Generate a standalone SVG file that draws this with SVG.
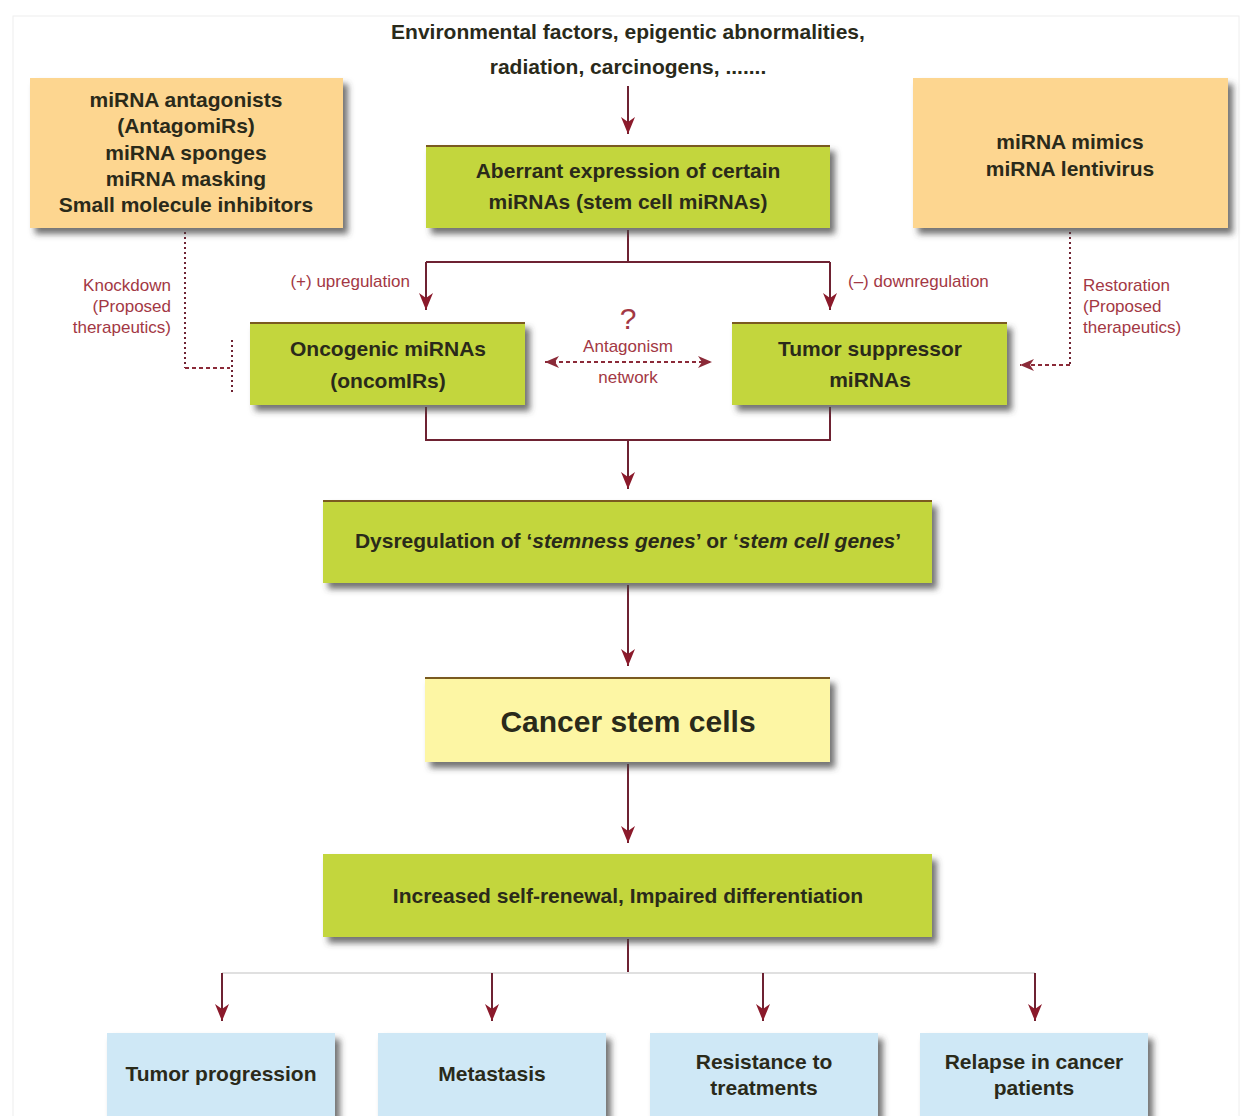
<svg xmlns="http://www.w3.org/2000/svg" width="1245" height="1116" viewBox="0 0 1245 1116">
<style>
.t{font-family:"Liberation Sans",Arial,sans-serif;font-weight:bold;fill:#2a2a1a;text-anchor:middle}
.lbl{font-family:"Liberation Sans",Arial,sans-serif;fill:#a33844;font-size:17px}
.q{font-family:"Liberation Sans",Arial,sans-serif;fill:#a33844;font-size:30px;text-anchor:middle}
.green{fill:#c3d63c}
.orange{fill:#fdd690}
.yellow{fill:#fdf6a4}
.blue{fill:#cfe8f6}
.topedge{stroke:#7a5a20;stroke-width:2}
.conn{stroke:#6e2232;stroke-width:2;fill:none}
.dot{stroke:#6e2232;stroke-width:2;fill:none;stroke-dasharray:2 3}
.dash{stroke:#8b2a38;stroke-width:2;fill:none;stroke-dasharray:4 3}
</style>
<defs>
<filter id="sh" x="-10%" y="-20%" width="130%" height="150%">
<feDropShadow dx="5" dy="6" stdDeviation="3" flood-color="#444" flood-opacity="0.75"/>
</filter>
<marker id="ah" viewBox="0 0 17 14" refX="17" refY="7" markerWidth="17" markerHeight="14" markerUnits="userSpaceOnUse" orient="auto-start-reverse">
<path d="M0,0 L17,7 L0,14 L5,7 Z" fill="#8b1a2b"/>
</marker>
<marker id="ad" viewBox="0 0 14 12" refX="14" refY="6" markerWidth="14" markerHeight="12" markerUnits="userSpaceOnUse" orient="auto-start-reverse">
<path d="M0,0 L14,6 L0,12 L4,6 Z" fill="#8b2a38"/>
</marker>
</defs>
<rect x="0" y="0" width="1245" height="1116" fill="#ffffff"/>
<rect x="13" y="16" width="1226" height="1110" fill="none" stroke="#eeeeee" stroke-width="1"/>

<g id="connectors">
<line class="conn" x1="628" y1="86" x2="628" y2="134" marker-end="url(#ah)"/>
<path class="conn" d="M628,230 V262 M426,262 H830"/>
<line class="conn" x1="426" y1="262" x2="426" y2="310" marker-end="url(#ah)"/>
<line class="conn" x1="830" y1="262" x2="830" y2="310" marker-end="url(#ah)"/>
<path class="conn" d="M426,407 V440 H830 V407"/>
<line class="conn" x1="628" y1="440" x2="628" y2="489" marker-end="url(#ah)"/>
<line class="conn" x1="628" y1="585" x2="628" y2="666" marker-end="url(#ah)"/>
<line class="conn" x1="628" y1="764" x2="628" y2="843" marker-end="url(#ah)"/>
<line class="conn" x1="628" y1="939" x2="628" y2="973"/>
<line x1="222" y1="973" x2="1035" y2="973" stroke="#e0e0e0" stroke-width="2"/>
<line class="conn" x1="222" y1="973" x2="222" y2="1021" marker-end="url(#ah)"/>
<line class="conn" x1="492" y1="973" x2="492" y2="1021" marker-end="url(#ah)"/>
<line class="conn" x1="763" y1="973" x2="763" y2="1021" marker-end="url(#ah)"/>
<line class="conn" x1="1035" y1="973" x2="1035" y2="1021" marker-end="url(#ah)"/>
<path class="dot" d="M185,232 V368"/>
<path class="dash" d="M185,368 H230"/>
<path class="dot" d="M232,340 V394"/>
<path class="dot" d="M1070,232 V365"/>
<path class="dash" d="M1070,365 H1020" marker-end="url(#ad)"/>
<path class="dash" d="M545,362 H712" marker-start="url(#ad)" marker-end="url(#ad)"/>
</g>

<g id="top-text">
<text class="t" x="628" y="39" font-size="21">Environmental factors, epigentic abnormalities,</text>
<text class="t" x="628" y="74" font-size="21">radiation, carcinogens, .......</text>
</g>

<g id="left-orange">
<rect class="orange" x="30" y="78" width="313" height="150" filter="url(#sh)"/>
<text class="t" font-size="21"><tspan x="186" y="107">miRNA antagonists</tspan><tspan x="186" y="133">(AntagomiRs)</tspan><tspan x="186" y="160">miRNA sponges</tspan><tspan x="186" y="186">miRNA masking</tspan><tspan x="186" y="212">Small molecule inhibitors</tspan></text>
</g>

<g id="right-orange">
<rect class="orange" x="913" y="78" width="315" height="150" filter="url(#sh)"/>
<text class="t" font-size="21"><tspan x="1070" y="149">miRNA mimics</tspan><tspan x="1070" y="176">miRNA lentivirus</tspan></text>
</g>

<g id="aberrant">
<rect class="green" x="426" y="145" width="404" height="83" filter="url(#sh)"/>
<line class="topedge" x1="426" y1="146" x2="830" y2="146"/>
<text class="t" font-size="21"><tspan x="628" y="178">Aberrant expression of certain</tspan><tspan x="628" y="209">miRNAs (stem cell miRNAs)</tspan></text>
</g>

<g id="labels">
<text class="lbl" x="410" y="287" text-anchor="end">(+) upregulation</text>
<text class="lbl" x="848" y="287">(–) downregulation</text>
<text class="lbl" x="171" y="291" text-anchor="end">Knockdown</text>
<text class="lbl" x="171" y="312" text-anchor="end">(Proposed</text>
<text class="lbl" x="171" y="333" text-anchor="end">therapeutics)</text>
<text class="lbl" x="1083" y="291">Restoration</text>
<text class="lbl" x="1083" y="312">(Proposed</text>
<text class="lbl" x="1083" y="333">therapeutics)</text>
<text class="q" x="628" y="329">?</text>
<text class="lbl" x="628" y="352" text-anchor="middle">Antagonism</text>
<text class="lbl" x="628" y="383" text-anchor="middle">network</text>
</g>

<g id="oncogenic">
<rect class="green" x="250" y="322" width="275" height="83" filter="url(#sh)"/>
<line class="topedge" x1="250" y1="323" x2="525" y2="323"/>
<text class="t" font-size="21"><tspan x="388" y="356">Oncogenic miRNAs</tspan><tspan x="388" y="388">(oncomIRs)</tspan></text>
</g>

<g id="tumor-suppressor">
<rect class="green" x="732" y="322" width="275" height="83" filter="url(#sh)"/>
<line class="topedge" x1="732" y1="323" x2="1007" y2="323"/>
<text class="t" font-size="21"><tspan x="870" y="356">Tumor suppressor</tspan><tspan x="870" y="387">miRNAs</tspan></text>
</g>

<g id="dysregulation">
<rect class="green" x="323" y="500" width="609" height="83" filter="url(#sh)"/>
<line class="topedge" x1="323" y1="501" x2="932" y2="501"/>
<text class="t" x="628" y="548" font-size="21">Dysregulation of ‘<tspan font-style="italic">stemness genes</tspan>’ or ‘<tspan font-style="italic">stem cell genes</tspan>’</text>
</g>

<g id="cancer-stem-cells">
<rect class="yellow" x="425" y="677" width="405" height="85" filter="url(#sh)"/>
<line class="topedge" x1="425" y1="678" x2="830" y2="678"/>
<text class="t" x="628" y="732" font-size="30">Cancer stem cells</text>
</g>

<g id="self-renewal">
<rect class="green" x="323" y="854" width="609" height="83" filter="url(#sh)"/>
<text class="t" x="628" y="903" font-size="21">Increased self-renewal, Impaired differentiation</text>
</g>

<g id="tumor-progression">
<rect class="blue" x="107" y="1033" width="228" height="100" filter="url(#sh)"/>
<text class="t" x="221" y="1081" font-size="21">Tumor progression</text>
</g>
<g id="metastasis">
<rect class="blue" x="378" y="1033" width="228" height="100" filter="url(#sh)"/>
<text class="t" x="492" y="1081" font-size="21">Metastasis</text>
</g>
<g id="resistance">
<rect class="blue" x="650" y="1033" width="228" height="100" filter="url(#sh)"/>
<text class="t" font-size="21"><tspan x="764" y="1069">Resistance to</tspan><tspan x="764" y="1095">treatments</tspan></text>
</g>
<g id="relapse">
<rect class="blue" x="920" y="1033" width="228" height="100" filter="url(#sh)"/>
<text class="t" font-size="21"><tspan x="1034" y="1069">Relapse in cancer</tspan><tspan x="1034" y="1095">patients</tspan></text>
</g>
</svg>
